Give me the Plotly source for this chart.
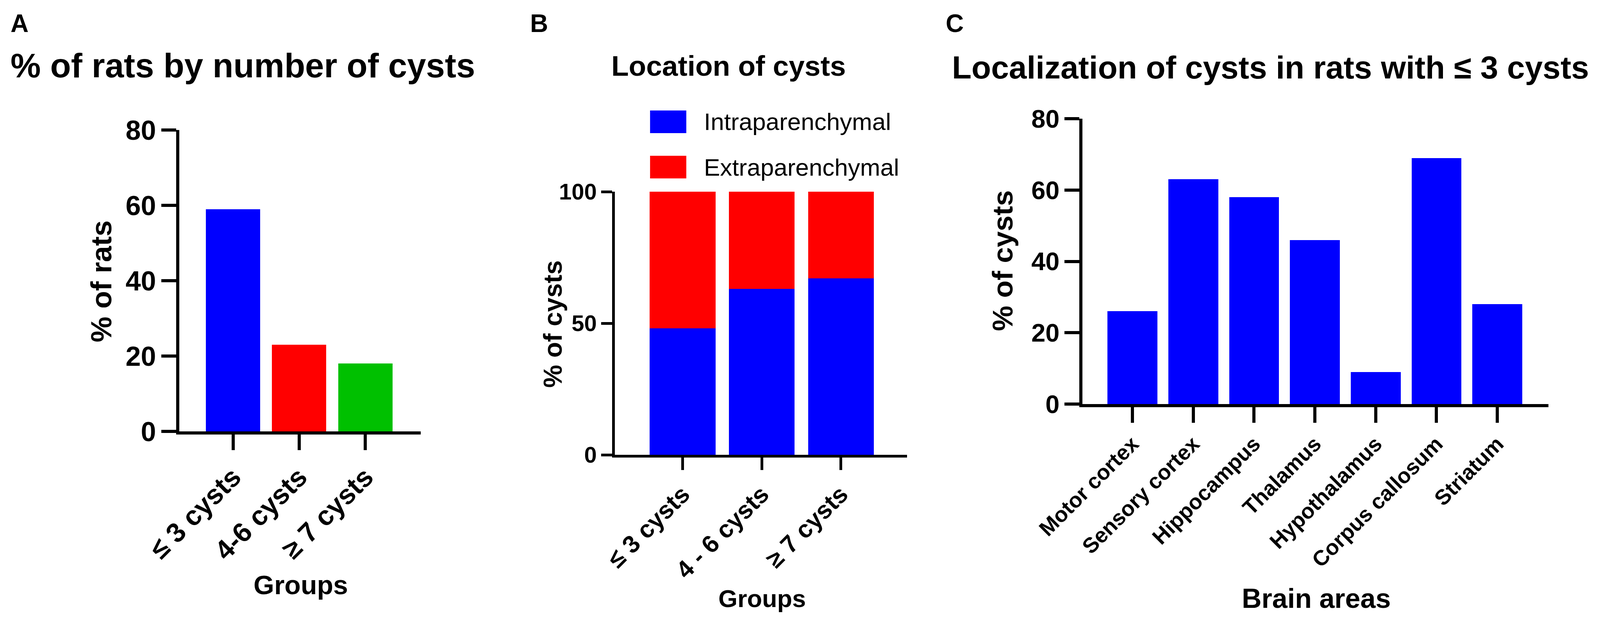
import plotly.graph_objects as go

# panel A: % of rats by number of cysts
groups_a = ["≤ 3 cysts", "4-6 cysts", "≥ 7 cysts"]
rats_pct = [59, 23, 18]
colors_a = ["#0000FF", "#FF0000", "#00C000"]

# panel B: location of cysts (stacked)
groups_b = ["≤ 3 cysts", "4 - 6 cysts", "≥ 7 cysts"]
intra_pct = [48, 63, 67]
extra_pct = [52, 37, 33]

# panel C: localization in rats with <= 3 cysts
areas = ["Motor cortex", "Sensory cortex", "Hippocampus", "Thalamus",
         "Hypothalamus", "Corpus callosum", "Striatum"]
areas_pct = [26, 63, 58, 46, 9, 69, 28]

# the browser viewport is 4096 css px wide; positions below are measured
# on the 4328 x 1583 reference and turned into paper fractions
REF_W, REF_H = 4328, 1583
W, H = 4096, 1583
FONT = "Liberation Sans, Arial, sans-serif"
BLUE, RED = "#0000FF", "#FF0000"


def fx(px):
    return px / REF_W


def fy(py):
    return 1 - py / REF_H


fig = go.Figure()

fig.add_trace(go.Bar(x=groups_a, y=rats_pct, marker_color=colors_a, width=0.82,
                     xaxis="x", yaxis="y", showlegend=False))
fig.add_trace(go.Bar(x=groups_b, y=intra_pct, marker_color=BLUE, width=0.83,
                     name="Intraparenchymal", xaxis="x2", yaxis="y2", showlegend=False))
fig.add_trace(go.Bar(x=groups_b, y=extra_pct, marker_color=RED, width=0.83,
                     name="Extraparenchymal", xaxis="x2", yaxis="y2", showlegend=False))
fig.add_trace(go.Bar(x=areas, y=areas_pct, marker_color=BLUE, width=0.82,
                     xaxis="x3", yaxis="y3", showlegend=False))


def xax(dom, rng, anchor, size, tlen, lw):
    return dict(domain=dom, range=rng, anchor=anchor, showline=True, linecolor="black",
                linewidth=lw, ticks="outside", ticklen=tlen, tickwidth=lw, tickcolor="black",
                tickangle=-45, showgrid=False, zeroline=False, automargin=False,
                tickfont=dict(family=FONT, size=size, color="black", weight="bold"))


def yax(dom, rng, dtick, anchor, size, tlen, lw):
    return dict(domain=dom, range=rng, dtick=dtick, anchor=anchor, showline=True,
                linecolor="black", linewidth=lw, ticks="outside", ticklen=tlen,
                tickwidth=lw, tickcolor="black", showgrid=False, zeroline=False,
                automargin=False,
                tickfont=dict(family=FONT, size=size, color="black", weight="bold"))


fig.update_layout(
    width=W, height=H, margin=dict(l=0, r=0, t=0, b=0, pad=0),
    paper_bgcolor="white", plot_bgcolor="white", barmode="stack",
    template="none",
    xaxis=xax([fx(477), fx(1130)], [-0.81, 2.84], "y", 70, 40, 8),
    yaxis=yax([fy(1097), fy(325)], [0, 80], 20, "x", 70, 38, 8),
    xaxis2=xax([fx(1655), fx(2445)], [-0.855, 2.836], "y2", 63, 32, 7),
    yaxis2=yax([fy(1157), fy(483)], [0, 100], 50, "x2", 58, 28, 7),
    xaxis3=xax([fx(2920), fx(4180)], [-0.82, 6.84], "y3", 55, 40, 8),
    yaxis3=yax([fy(1027), fy(296)], [0, 80], 20, "x3", 65, 38, 8),
)


def note(text, x, y, size, bold=True, xanchor="center", angle=0):
    fig.add_annotation(text=text, x=fx(x), y=fy(y), xref="paper", yref="paper",
                       showarrow=False, xanchor=xanchor, yanchor="middle", textangle=angle,
                       font=dict(family=FONT, size=size, color="black",
                                 weight="bold" if bold else "normal"))


# panel letters
note("A", 18, 52, 64, xanchor="left")
note("B", 1423, 52, 64, xanchor="left")
note("C", 2548, 52, 64, xanchor="left")

# titles
note("% of rats by number of cysts", 18, 160, 87, xanchor="left")
note("Location of cysts", 1962, 161, 73)
note("Localization of cysts in rats with ≤ 3 cysts", 2564, 164, 82, xanchor="left")

# axis titles
note("% of rats", 265, 712, 74, angle=-90)
note("Groups", 805, 1490, 68)
note("% of cysts", 1487, 822, 66, angle=-90)
note("Groups", 2053, 1525, 63)
note("% of cysts", 2703, 660, 73, angle=-90)
note("Brain areas", 3552, 1525, 70)

# legend for panel B
for label, col, yc in [("Intraparenchymal", BLUE, 304), ("Extraparenchymal", RED, 420)]:
    fig.add_shape(type="rect", xref="paper", yref="paper",
                  x0=fx(1750), x1=fx(1848), y0=fy(yc - 29), y1=fy(yc + 29),
                  fillcolor=col, line_width=0)
    note(label, 1893, yc, 62, bold=False, xanchor="left")

fig.write_html("out.html")
